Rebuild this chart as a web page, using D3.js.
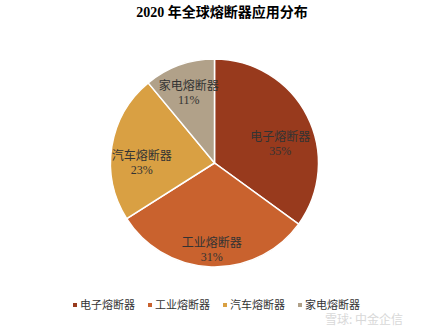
<!DOCTYPE html>
<html>
<head>
<meta charset="utf-8">
<script src="https://cdn.jsdelivr.net/npm/d3@7"></script>
<style>
body { margin: 0; background: #fff; }
</style>
</head>
<body>
<div id="chart"></div>
<script>
// data
var categories = ["电子熔断器", "工业熔断器", "汽车熔断器", "家电熔断器"];
var shares = [35, 31, 23, 11];
var colors = ["#983a1d", "#c9622e", "#d9a043", "#b1a189"];
// label placement (excel "best fit"): distance as share of radius, angle shift in degrees
var labelPos = [0.66, 0.83, 0.7, 0.73];
var labelShift = [10, 0, -8, 0];

var width = 428, height = 331;
var cx = 214.5, cy = 163, r = 104;

var svg = d3.select("#chart")
  .append("svg")
  .attr("width", width)
  .attr("height", height);

svg.append("text")
  .attr("x", 222)
  .attr("y", 17)
  .attr("text-anchor", "middle")
  .style("font-family", "'Liberation Serif', 'Noto Sans CJK SC', serif")
  .style("font-weight", "bold")
  .style("font-size", "14px")
  .text("2020 年全球熔断器应用分布");

var data = categories.map(function(c, i) {
  return {name: c, value: shares[i], color: colors[i], lp: labelPos[i], ls: labelShift[i]};
});

var pie = d3.pie().sort(null).value(function(d) { return d.value; });
var arc = d3.arc().innerRadius(0).outerRadius(r);

var g = svg.append("g").attr("transform", "translate(" + cx + "," + cy + ")");

var arcs = pie(data);
g.selectAll("path")
  .data(arcs)
  .enter()
  .append("path")
  .attr("d", arc)
  .attr("fill", function(d) { return d.data.color; })
  .attr("stroke", "#fff")
  .attr("stroke-width", 1.5);

var lbl = g.selectAll("text.lbl")
  .data(arcs)
  .enter()
  .append("text")
  .attr("class", "lbl")
  .attr("transform", function(d) {
    var a = (d.startAngle + d.endAngle) / 2 + d.data.ls * Math.PI / 180;
    var rr = r * d.data.lp;
    return "translate(" + (Math.sin(a) * rr) + "," + (-Math.cos(a) * rr) + ")";
  })
  .attr("text-anchor", "middle")
  .style("font-family", "'Liberation Serif', 'Noto Sans CJK SC', serif")
  .style("font-size", "12px")
  .style("fill", "#333");
lbl.append("tspan").attr("x", 0).attr("dy", "-0.15em").text(function(d) { return d.data.name; });
lbl.append("tspan").attr("x", 0).attr("dy", "1.15em").text(function(d) { return d.data.value + "%"; });

// legend
var legendX = [75, 150, 225, 300];
var legend = svg.selectAll("g.leg")
  .data(data)
  .enter()
  .append("g")
  .attr("class", "leg")
  .attr("transform", function(d, i) { return "translate(" + legendX[i] + ",305)"; });
legend.append("rect")
  .attr("x", -2).attr("y", -2).attr("width", 4).attr("height", 4)
  .attr("fill", function(d) { return d.color; });
legend.append("text")
  .attr("x", 5)
  .attr("y", 4)
  .style("font-family", "'Noto Sans CJK SC', sans-serif")
  .style("font-size", "11px")
  .style("fill", "#333")
  .text(function(d) { return d.name; });

// watermark
svg.append("text")
  .attr("x", 364)
  .attr("y", 324)
  .attr("text-anchor", "middle")
  .style("font-family", "'Noto Sans CJK SC', sans-serif")
  .style("font-size", "12px")
  .style("fill", "#d8d8d8")
  .text("雪球: 中金企信");
</script>
</body>
</html>
